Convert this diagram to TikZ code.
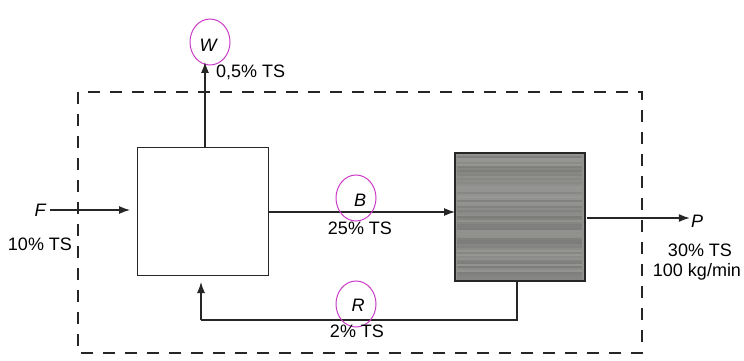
\documentclass[tikz,border=0pt]{standalone}
\usepackage{fontspec}
\setmainfont{Liberation Sans}
\usetikzlibrary{arrows.meta,shapes.geometric}
\definecolor{mag}{RGB}{205,60,200}
\definecolor{boxgray}{RGB}{145,145,142}
\tikzset{
  flow/.style={draw=black!85, line width=1.2pt, -{Latex[length=11pt,width=8pt]}},
  pipe/.style={draw=black!85, line width=1.2pt},
  unit/.style={draw=black!85, line width=1.2pt, minimum width=131pt, minimum height=128pt, inner sep=0pt},
  lbl/.style={font=\fontsize{18}{21}\selectfont, inner sep=1pt},
  ilbl/.style={font=\fontsize{18}{21}\selectfont\itshape, inner sep=1pt},
  ring/.style={draw=mag, line width=1pt, ellipse, minimum width=40pt, minimum height=46pt},
  envelope/.style={draw=black!85, line width=1.2pt, dash pattern=on 12pt off 10pt}
}
\begin{document}
\begin{tikzpicture}[x=1pt,y=-1pt]
\useasboundingbox (0,0) rectangle (744,361);
% system envelope
\draw[envelope] (78,92) rectangle (642,353);
% units
\node[unit, anchor=north west] (u1) at (137,147) {};
\node[unit, anchor=north west, fill=boxgray, minimum width=129pt, minimum height=127pt] (u2) at (455,153) {};
% texture streaks
\pgfmathsetseed{7}
\foreach \yy in {156,158,...,278}{
  \pgfmathsetmacro{\cc}{30+50*rnd}
  \fill[black!\cc, opacity=0.22] (457,\yy) rectangle (582,\yy+1.5);
}
\draw[black!85, line width=1.2pt] (u2.north west) rectangle (u2.south east);
% W stream
\node[ilbl] (W) at (208,45) {W};
\node[ring] (Wr) at (210,42) {};
\coordinate (wtop) at (205,62);
\draw[flow] (u1.north -| wtop) -- (wtop);
\node[lbl, anchor=west] (wts) at (215,72) {0,5\% TS};
% F stream
\node[ilbl] (F) at (40,210) {F};
\coordinate (fstart) at (50,210);
\coordinate (fend) at (130,210);
\draw[flow] (fstart) -- (fend);
\node[lbl] (fts) at (40,244) {10\% TS};
% B stream
\coordinate (bstart) at (268,212);
\draw[flow] (bstart) -- (bstart -| u2.west);
\node[ilbl] (B) at (360,200) {B};
\node[ring] (Br) at (356,198) {};
\node[lbl] (bts) at (360,228) {25\% TS};
% P stream
\coordinate (pstart) at (587,218);
\node[ilbl] (P) at (697,221) {P};
\draw[flow] (pstart) -- (P.west |- pstart);
\node[lbl] (pts) at (700,250) {30\% TS};
\node[lbl] (pflow) at (697,272) {100 kg/min};
% R stream
\coordinate (rc1) at (517,320);
\coordinate (rc2) at (201,320);
\draw[pipe] (u2.south -| rc1) -- (rc1) -- (rc2);
\coordinate (rtip) at (201,282);
\draw[flow] (rc2) -- (rtip);
\node[ilbl] (R) at (358,305) {R};
\node[ring] (Rr) at (356,304) {};
\node[lbl] (rts) at (357,331) {2\% TS};
\end{tikzpicture}
\end{document}
